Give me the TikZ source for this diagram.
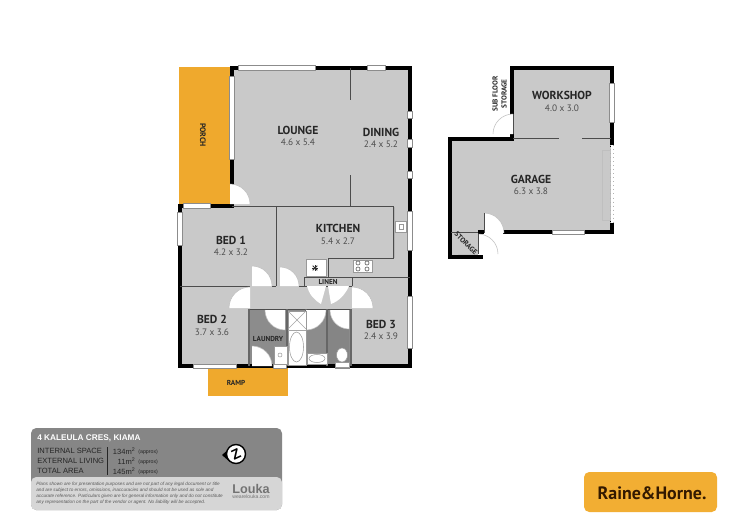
\documentclass[tikz,border=0pt]{standalone}
\usepackage{fontspec}
\setmainfont{PT Sans}
\newfontfamily\panelfont{Liberation Sans}
\usepackage{xcolor}
\definecolor{floorgrey}{HTML}{C9C9C9}
\definecolor{wetgrey}{HTML}{8C8C8C}
\definecolor{porchorange}{HTML}{EFA92D}
\definecolor{logoorange}{HTML}{F2AE33}
\definecolor{panelgrey}{HTML}{868686}
\definecolor{noteback}{HTML}{D6D6D6}
\definecolor{inktext}{HTML}{262626}
\tikzset{
  wall/.style={line width=2pt, black, line cap=rect},
  thinwall/.style={line width=0.5pt, black!70},
  wetwall/.style={line width=0.8pt, black!60},
  window/.style={fill=white, draw=gray!90, line width=0.4pt},
  door/.style={fill=white, draw=none},
  doorarc/.style={gray!50, line width=0.3pt},
  fixture/.style={fill=white, draw=gray!80, line width=0.3pt},
  roomname/.style={font=\fontsize{6.6}{7}\selectfont\bfseries, text=inktext, inner sep=0pt},
  roomsize/.style={font=\fontsize{5.3}{7}\selectfont, text=black!70, inner sep=0pt},
  smallname/.style={font=\fontsize{4.1}{5}\selectfont\bfseries, text=inktext, inner sep=0pt},
  panelrow/.style={font=\panelfont\fontsize{4.3}{5}\selectfont, text=inktext, inner sep=0pt},
  panelnote/.style={font=\panelfont\itshape\fontsize{2.65}{3}\selectfont, text=black!65, inner sep=0pt, anchor=west}
}

\begin{document}
\begin{tikzpicture}[x=0.02cm, y=0.02cm, yscale=-1]
\useasboundingbox (0,0) rectangle (750,531);
\fill[white] (0,0) rectangle (750,531);

% floors
\fill[floorgrey] (232,68) rectangle (410,206);
\fill[floorgrey] (180,206) rectangle (410,366);
\fill[porchorange] (179,67) rectangle (232,205);
\fill[porchorange] (208,366) rectangle (288,396);
\fill[wetgrey] (249,309) rectangle (352,366);
\fill[black!48] (328,309) rectangle (349,366);
\fill[floorgrey] (513,68) rectangle (612,139);
\fill[floorgrey] (450,139) rectangle (612,233);
\fill[floorgrey] (451,233) rectangle (480,257);
\fill[white] (478,233) rectangle (484,257);

% house walls
\draw[wall] (232,68) -- (410,68) -- (410,366) -- (180,366);
\draw[wall] (180,366) -- (180,206) -- (232,206) -- (232,68);
\draw[thinwall] (232,206) -- (394,206);
\draw[thinwall] (350,68) -- (350,100);
\draw[thinwall] (350,175) -- (350,206);
\draw[thinwall] (276,206) -- (276,286);
\draw[thinwall] (180,286) -- (250,286);
\draw[thinwall] (272,286) -- (276,286);
\draw[thinwall] (299,286) -- (352,286);
\draw[thinwall] (393,206) -- (393,258) -- (328,258) -- (328,277);
\draw[thinwall] (304,277) -- (410,277);
\draw[thinwall] (304,277) -- (304,286);
\draw[thinwall] (352,277) -- (352,286);
\draw[thinwall] (249,309) -- (352,309);
\foreach \wx in {249,287,306,327,351}
  \draw[wetwall] (\wx,309) -- (\wx,366);

% shed walls
\draw[wall] (512,116) -- (512,68) -- (612,68) -- (612,145);
\draw[wall] (512,134) -- (512,139) -- (450,139) -- (450,257) -- (481,257);
\draw[wall] (505,232) -- (612,232) -- (612,223);
\draw[line width=2pt] (478,232) -- (484,232);
\draw[thinwall] (513,138) -- (559,138);
\draw[thinwall] (582,138) -- (611,138);
\draw[thinwall] (451,232) -- (478,232);
\draw[gray!50, line width=0.3pt] (602,150) rectangle (610,220);
\fill[white] (610.5,145) rectangle (613.5,223);
\draw[gray!60, dotted, line width=0.3pt] (610.5,145) -- (610.5,223);
\draw[gray!60, dotted, line width=0.3pt] (613.5,145) -- (613.5,223);

% door swings: hinge x / hinge y / radius / start angle
\foreach \cx/\cy/\rad/\ang in {230/204/20/270, 252/286/20/270, 280/286/19/270, 250/308/21/180,
  352/308/21/270, 285/310/20/90, 306/310/20/0, 349/310/19/90, 252/366/20/270,
  513/134/20/180, 484/233/20/270, 478/254/20/270}{
  \fill[door] (\cx,\cy) -- ++(\ang:\rad) arc (\ang:\ang+90:\rad) -- cycle;
  \draw[doorarc] (\cx,\cy) ++(\ang:\rad) arc (\ang:\ang+90:\rad);
}
\draw[thinwall] (484,213) -- (484,233);
\draw[thinwall] (478,234) -- (478,254);
\draw[thinwall] (513,114) -- (513,134);
\draw[doorarc] (458,254) -- (478,254);
\fill[door] (307,286) -- (326,286) -- (321,304) .. controls (314,300) and (309,294) .. (307,286);
\fill[door] (328,286) -- (349,286) .. controls (345,295) and (339,301) .. (331,304) -- cycle;

% windows
\foreach \xa/\ya/\xb/\yb in {238/65.5/315/70, 367/65.5/385/70, 229.5/76/234/159, 407.5/111/412.5/118,
  407.5/139/412.5/147, 407.5/171/412.5/178, 407.5/211/412.5/250, 407.5/296/412.5/348, 183/203.5/210/208,
  177.5/212/182/245, 193/364/236/368.5, 273/364/286/368.5, 335/364/349/368.5,
  609.5/83/614.5/122, 552/230/584/234.5}
  \draw[window] (\xa,\ya) rectangle (\xb,\yb);

% kitchen fixtures
\draw[gray!60, line width=0.3pt] (394,207) -- (394,258);
\draw[fixture] (395,221) rectangle (406,232);
\draw[fixture] (399,224) rectangle (403,229);
\draw[fixture] (306,259) rectangle (326,276);
\foreach \ang in {0,45,...,315}
  \draw[black!80, line width=0.5pt] (315,268) -- ++(\ang:3.2);
\draw[fixture] (353,260) rectangle (372,272);
\foreach \cx/\cy in {358/263, 367/263, 358/269, 367/269}
  \draw[gray!90!black, line width=0.4pt] (\cx,\cy) circle (2);

% wet room fixtures
\draw[fixture] (288,311) rectangle (306,365);
\draw[gray!70, line width=0.3pt] (288,311) -- (306,329);
\draw[gray!70, line width=0.3pt] (306,311) -- (288,329);
\draw[gray!70, line width=0.3pt] (288,330) -- (306,330);
\draw[gray!80, line width=0.3pt, fill=white] (296.5,347) ellipse (7 and 15);
\draw[fixture] (274,346) rectangle (287,364);
\draw[gray!80, line width=0.3pt] (280,355) circle (2);
\draw[fixture] (307,353) rectangle (327,364);
\draw[gray!80, line width=0.3pt] (317,358.5) ellipse (8 and 4);
\draw[fixture] (335,362) rectangle (349,367);
\draw[gray!80, line width=0.3pt, fill=white] (342,355) ellipse (5.5 and 7);

% room labels
\node[roomname] (lounge) at (298,130) {LOUNGE};
\node[roomsize] (loungesize) at (298,142) {4.6 x 5.4};
\node[roomname] (dining) at (381,132) {DINING};
\node[roomsize] (diningsize) at (381,144) {2.4 x 5.2};
\node[smallname, rotate=-90, font=\fontsize{4.5}{5}\selectfont\bfseries] (porch) at (203,135) {PORCH};
\node[roomname] (kitchen) at (338,228) {KITCHEN};
\node[roomsize] (kitchensize) at (338,241) {5.4 x 2.7};
\node[roomname] (bedone) at (231,240) {BED 1};
\node[roomsize] (bedonesize) at (231,252) {4.2 x 3.2};
\node[roomname] (bedtwo) at (212,319) {BED 2};
\node[roomsize] (bedtwosize) at (212,332) {3.7 x 3.6};
\node[roomname] (bedthree) at (381,324) {BED 3};
\node[roomsize] (bedthreesize) at (381,336) {2.4 x 3.9};
\node[smallname] (linen) at (328,282) {LINEN};
\node[smallname] (laundry) at (268,339) {LAUNDRY};
\node[smallname] (ramp) at (236,383) {RAMP};
\node[roomname] (workshop) at (562,95) {WORKSHOP};
\node[roomsize] (workshopsize) at (562,108) {4.0 x 3.0};
\node[roomname] (garage) at (531,179) {GARAGE};
\node[roomsize] (garagesize) at (531,191) {6.3 x 3.8};
\node[smallname, rotate=90] (subfloor) at (495,94) {SUB FLOOR};
\node[smallname, rotate=90] (substorage) at (504,94) {STORAGE};
\node[smallname, rotate=-45] (storage) at (466,243) {STORAGE};

% info panel
\fill[panelgrey, rounded corners=3] (31,428) rectangle (282,510);
\fill[noteback, rounded corners=3] (31,477) rectangle (282,510);
\node[panelrow, anchor=west, text=white, font=\panelfont\bfseries\fontsize{4.7}{5}\selectfont] (address) at (37,438) {4 KALEULA CRES, KIAMA};
\node[panelrow, anchor=west] (rowa) at (37,451) {INTERNAL SPACE};
\node[panelrow, anchor=west] (rowb) at (37,461) {EXTERNAL LIVING};
\node[panelrow, anchor=west] (rowc) at (37,471) {TOTAL AREA};
\draw[inktext, line width=0.4pt] (107,447) -- (107,475);
\node[panelrow, anchor=east] (vala) at (136,451) {134m\textsuperscript{2}};
\node[panelrow, anchor=east] (valb) at (136,461) {11m\textsuperscript{2}};
\node[panelrow, anchor=east] (valc) at (136,471) {145m\textsuperscript{2}};
\foreach \rowy/\rowname in {452/appa, 462/appb, 472/appc}
  \node[panelrow, anchor=west, font=\panelfont\fontsize{3}{3}\selectfont] (\rowname) at (138,\rowy) {(approx)};
\fill[black] (222,455) -- (230,448) -- (230,462) -- cycle;
\draw[black, line width=0.8pt, fill=white] (236,454) circle (9.5);
\node[inner sep=0pt, rotate=25, font=\panelfont\bfseries\fontsize{8}{9}\selectfont] (compass) at (236,454) {Z};
\node[panelnote] (notea) at (36,484) {Plans shown are for presentation purposes and are not part of any legal document or title};
\node[panelnote] (noteb) at (36,490) {and are subject to errors, omissions, inaccuracies and should not be used as sole and};
\node[panelnote] (notec) at (36,496) {accurate reference. Particulars given are for general information only and do not constitute};
\node[panelnote] (noted) at (36,502) {any representation on the part of the vendor or agent. No liability will be accepted.};
\node[inner sep=0pt, text=black!55, font=\panelfont\bfseries\fontsize{7.2}{8}\selectfont] (louka) at (251,489) {Louka};
\node[inner sep=0pt, text=black!55, font=\panelfont\fontsize{2.9}{3}\selectfont] (loukaweb) at (251,497) {wearelouka.com};

% agent logo
\fill[logoorange, rounded corners=3] (584,472) rectangle (717,512);
\node[inner sep=0pt, text=black!80!orange, font=\fontsize{10.2}{11}\selectfont\bfseries] (logo) at (652,493) {Raine\&Horne.};
\end{tikzpicture}
\end{document}
